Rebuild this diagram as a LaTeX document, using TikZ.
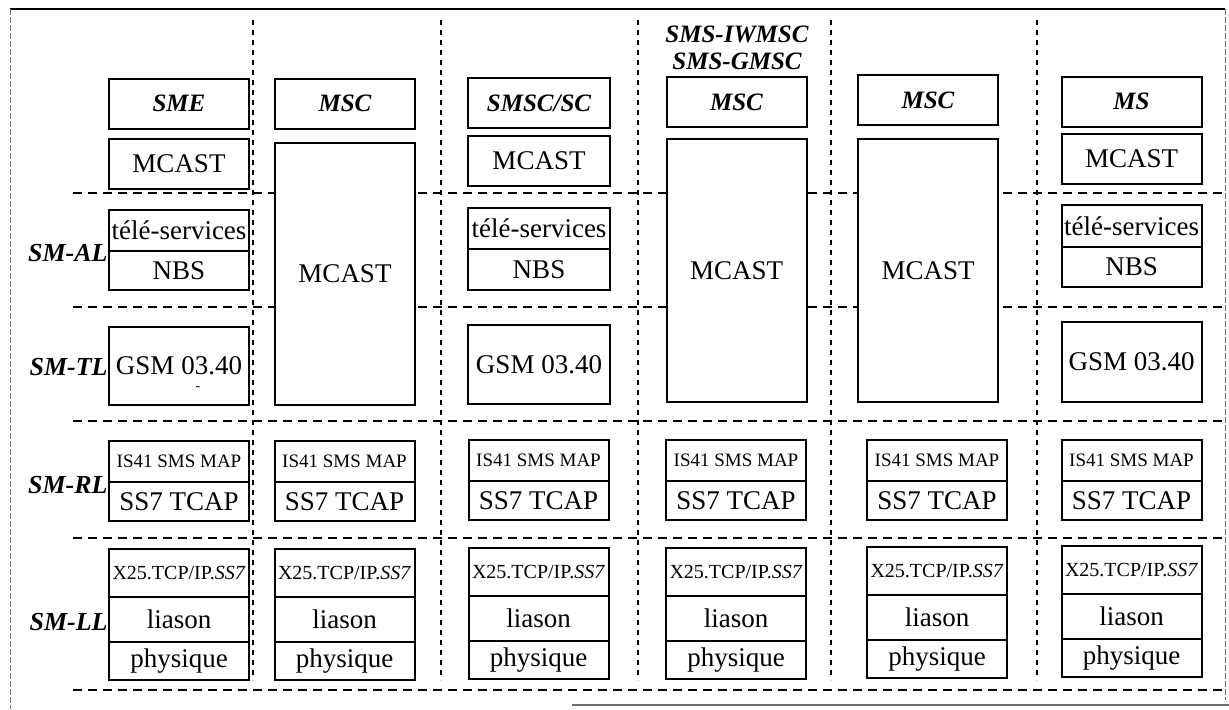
\documentclass[tikz,border=0pt]{standalone}
\usepackage{fontspec}
\setmainfont{Liberation Serif}
\usepackage{tikz}
\usetikzlibrary{positioning}
\definecolor{scangray}{RGB}{110,110,110}
\tikzset{
  namebox/.style={rectangle, draw, fill=white, line width=1pt,
    minimum width=70pt, minimum height=25pt, inner sep=0pt, outer sep=0pt,
    font=\fontsize{12.5}{14}\selectfont\bfseries\itshape},
  mcastbox/.style={rectangle, draw, fill=white, line width=1pt,
    minimum width=70pt, minimum height=25pt, inner sep=0pt, outer sep=0pt,
    font=\fontsize{13.5}{15}\selectfont},
  cell/.style={rectangle, draw, fill=white, line width=0.6pt,
    minimum width=70pt, inner sep=0pt, outer sep=0pt,
    font=\fontsize{13.5}{15}\selectfont},
  smallcell/.style={cell, font=\fontsize{9.5}{11}\selectfont},
  linkcell/.style={cell, font=\fontsize{10}{11}\selectfont},
  frame/.style={line width=1pt},
  layer/.style={anchor=east, inner sep=0pt,
    font=\fontsize{13}{15}\selectfont\bfseries\itshape},
  hsep/.style={line width=0.8pt, dash pattern=on 4.5pt off 3pt},
  vsep/.style={line width=0.7pt, dash pattern=on 2.5pt off 2.5pt},
  border/.style={line width=0.5pt, color=scangray, dash pattern=on 3pt off 1pt}
}

\begin{document}
\begin{tikzpicture}[x=0.5pt, y=-0.5pt]
  \useasboundingbox (0,0) rectangle (1229,709);

  % Outer frame
  \draw[line width=1pt] (10,9) -- (1225,9);
  \draw[border] (10,9) -- (10,709);
  \draw[border] (1225,9) -- (1225,700);
  \draw[line width=1pt, color=scangray] (572,705) -- (1229,705);

  % Layer and entity separators
  \foreach \y in {193,307,421,538,690}
    \draw[hsep] (73,\y) -- (1225,\y);
  \foreach \x in {253,441,638,831,1037}
    \draw[vsep] (\x,20) -- (\x,680);

  % Layer names
  \node[layer] (al) at (108,253) {SM-AL};
  \node[layer] (tl) at (108,367) {SM-TL};
  \node[layer] (rl) at (108,485) {SM-RL};
  \node[layer] (ll) at (108,622) {SM-LL};

  % SME
  \node[namebox] (sme) at (179,103.5) {SME};
  \node[mcastbox] (mcast1) at (179,163.5) {MCAST};
  \node[cell, minimum height=20.5pt, anchor=north] (tele1) at (179,210) {télé-services};
  \node[cell, minimum height=19.5pt, below=0pt of tele1] (nbs1) {NBS};
  \draw[frame] (tele1.north west) rectangle (nbs1.south east);
  \node[mcastbox, minimum height=39pt] (gsm1) at (179,366) {GSM 03.40};
  \node[inner sep=0pt, font=\scriptsize] (tick1) at (198,389) {-};

  % MSC
  \node[namebox] (msc2) at (345,103.5) {MSC};
  \node[mcastbox, minimum height=131pt] (mcast2) at (345,274) {MCAST};

  % SMSC/SC
  \node[namebox, minimum width=71pt] (smsc) at (539,103) {SMSC/SC};
  \node[mcastbox, minimum width=71pt] (mcast3) at (539,161) {MCAST};
  \node[cell, minimum width=71pt, minimum height=20.5pt, anchor=north] (tele3) at (539,208) {télé-services};
  \node[cell, minimum width=71pt, minimum height=20.5pt, below=0pt of tele3] (nbs3) {NBS};
  \draw[frame] (tele3.north west) rectangle (nbs3.south east);
  \node[mcastbox, minimum width=71pt, minimum height=39.5pt] (gsm3) at (539,364.5) {GSM 03.40};

  % MSC (SMS-IWMSC / SMS-GMSC)
  \node[inner sep=0pt, align=center,
    font=\fontsize{12.5}{13.5}\selectfont\bfseries\itshape] (gw) at (737,48) {SMS-IWMSC\\SMS-GMSC};
  \node[namebox] (msc4) at (736.5,102) {MSC};
  \node[mcastbox, minimum height=131.5pt] (mcast4) at (736.5,270.5) {MCAST};

  % MSC
  \node[namebox] (msc5) at (928,100) {MSC};
  \node[mcastbox, minimum height=131.5pt] (mcast5) at (928,270.5) {MCAST};

  % MS
  \node[namebox] (ms) at (1131.5,101.5) {MS};
  \node[mcastbox] (mcast6) at (1131.5,159) {MCAST};
  \node[cell, minimum height=21pt, anchor=north] (tele6) at (1131.5,205) {télé-services};
  \node[cell, minimum height=20pt, below=0pt of tele6] (nbs6) {NBS};
  \draw[frame] (tele6.north west) rectangle (nbs6.south east);
  \node[mcastbox, minimum height=40pt] (gsm6) at (1131.5,362) {GSM 03.40};

  % Relay and link stacks
  \foreach \i/\cx/\rt/\lt in {1/179/441/549, 2/344.5/441/549, 3/538.5/440/548,
                               4/736/440/548, 5/937/440/547, 6/1131.5/440/546} {
    \node[smallcell, minimum height=20.5pt, anchor=north] (map\i) at (\cx,\rt) {IS41 SMS MAP};
    \node[cell, minimum height=19.5pt, below=0pt of map\i] (tcap\i) {SS7 TCAP};
    \draw[frame] (map\i.north west) rectangle (tcap\i.south east);
    \node[linkcell, minimum height=24pt, anchor=north] (link\i) at (\cx,\lt) {X25.TCP/IP.\textit{SS7}};
    \node[cell, minimum height=22.5pt, below=0pt of link\i] (liason\i) {liason};
    \node[cell, minimum height=19pt, below=0pt of liason\i] (phys\i) {physique};
    \draw[frame] (link\i.north west) rectangle (phys\i.south east);
  }
\end{tikzpicture}
\end{document}
